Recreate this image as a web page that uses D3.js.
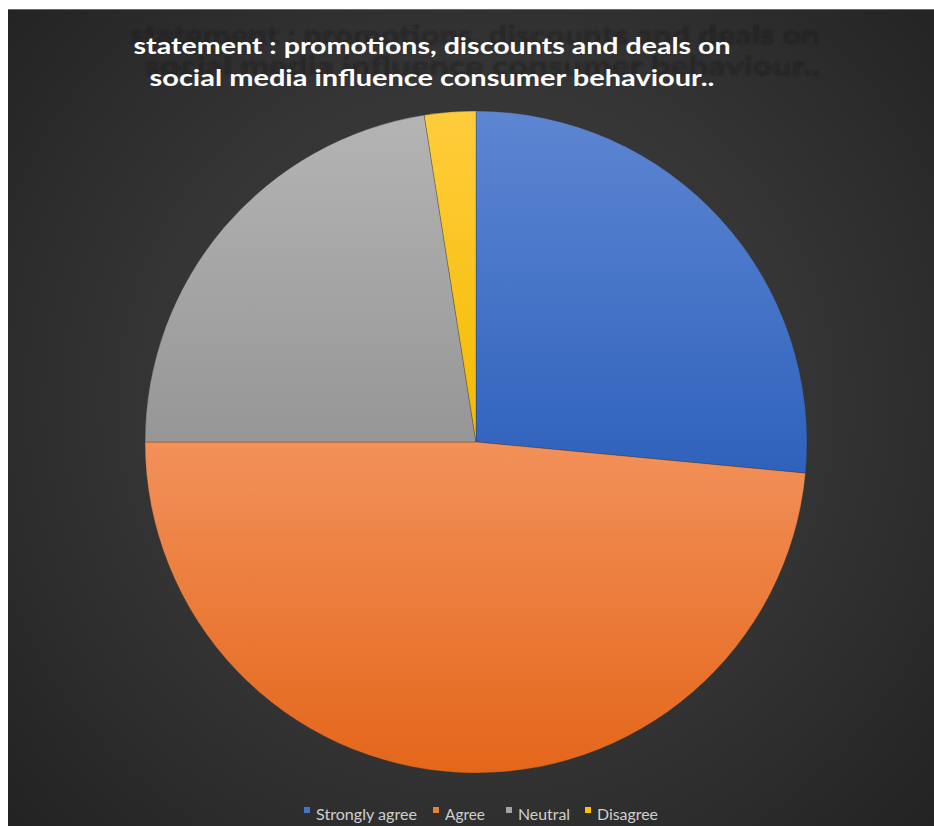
<!DOCTYPE html>
<html>
<head>
<meta charset="utf-8">
<script src="https://cdn.jsdelivr.net/npm/d3@7"></script>
<style>
  html, body { margin: 0; padding: 0; background: #ffffff; }
  svg { display: block; }
</style>
</head>
<body>
<svg id="chart" width="934" height="826"></svg>
<script>
// Survey responses (share of respondents, %)
const categories = ["Strongly agree", "Agree", "Neutral", "Disagree"];
const values = [26.5, 48.5, 22.5, 2.5];
const titleLines = [
  "statement : promotions, discounts and  deals on",
  "social  media  influence  consumer  behaviour.."
];
// slice fills: [light top, dark bottom]
const fills = [
  ["#5d86d2", "#2f62bc"],
  ["#f2915a", "#e4661a"],
  ["#b4b4b4", "#969696"],
  ["#ffcd3c", "#f4bb00"]
];

const W = 934, H = 826;
const svg = d3.select("#chart");
const defs = svg.append("defs");

// dark chart-area background with a soft centre glow
const bg = defs.append("radialGradient").attr("id", "bg")
  .attr("gradientUnits", "userSpaceOnUse")
  .attr("cx", 476).attr("cy", 400).attr("r", 620);
bg.append("stop").attr("offset", "0").attr("stop-color", "#444444");
bg.append("stop").attr("offset", "0.55").attr("stop-color", "#343434");
bg.append("stop").attr("offset", "1").attr("stop-color", "#232323");

fills.forEach((f, i) => {
  const g = defs.append("linearGradient").attr("id", "fill" + i)
    .attr("x1", 0).attr("y1", 0).attr("x2", 0).attr("y2", 1);
  g.append("stop").attr("offset", "0").attr("stop-color", f[0]);
  g.append("stop").attr("offset", "1").attr("stop-color", f[1]);
});

const blur = defs.append("filter").attr("id", "soft")
  .attr("x", "-5%").attr("y", "-20%").attr("width", "110%").attr("height", "140%");
blur.append("feGaussianBlur").attr("stdDeviation", 1.1);

svg.append("rect").attr("x", 8).attr("y", 9).attr("width", W - 8).attr("height", H - 9)
  .attr("fill", "url(#bg)");
svg.append("line").attr("x1", 8).attr("x2", W).attr("y1", 9.5).attr("y2", 9.5)
  .attr("stroke", "#6a6a6a").attr("stroke-width", 1);

// title: stretched perspective shadow behind the white text
const titleFont = "Lato, 'Open Sans', sans-serif";
const shadowX = [130, 145], shadowLen = [690, 675], shadowY = [44, 75];
const shadow = svg.append("g").attr("filter", "url(#soft)");
titleLines.forEach((t, i) => {
  shadow.append("text")
    .attr("x", shadowX[i]).attr("y", shadowY[i])
    .attr("font-family", titleFont).attr("font-weight", 700)
    .attr("font-size", 25).attr("fill", "#1d1d1d").attr("fill-opacity", 0.6)
    .attr("textLength", shadowLen[i])
    .attr("lengthAdjust", "spacingAndGlyphs")
    .text(t);
});

const title = svg.append("g");
titleLines.forEach((t, i) => {
  title.append("text")
    .attr("x", 432).attr("y", 54 + i * 32)
    .attr("text-anchor", "middle")
    .attr("font-family", titleFont).attr("font-weight", 700)
    .attr("font-size", 23).attr("fill", "#ffffff")
    .attr("textLength", i === 0 ? 597 : 565)
    .attr("lengthAdjust", "spacingAndGlyphs")
    .text(t);
});

// pie
const cx = 476, cy = 442, R = 331;
const pie = d3.pie().sort(null).value(d => d.v);
const arc = d3.arc().innerRadius(0).outerRadius(R);
const data = pie(categories.map((c, i) => ({ c, v: values[i], i })));

svg.append("g").attr("transform", `translate(${cx},${cy})`)
  .selectAll("path").data(data).join("path")
  .attr("d", arc)
  .attr("fill", d => `url(#fill${d.data.i})`)
  .attr("stroke", "rgba(40,40,40,0.35)")
  .attr("stroke-width", 0.8);

// legend
const legendFont = "Lato, 'Open Sans', sans-serif";
const legend = svg.append("g").attr("transform", "translate(0,820)");
const swatchColors = ["#4472c4", "#ed7d31", "#a5a5a5", "#ffc000"];
const xs = [304, 433, 506, 585];
const textLens = [101, 40, 52, 61];
const items = legend.selectAll("g").data(categories).join("g")
  .attr("transform", (d, i) => `translate(${xs[i]},0)`);
items.append("rect").attr("x", 0).attr("y", -13).attr("width", 6).attr("height", 6)
  .attr("fill", (d, i) => swatchColors[i]);
items.append("text").attr("x", 12).attr("y", 0)
  .attr("font-family", legendFont).attr("font-size", 14.5)
  .attr("fill", "#cfcfcf")
  .attr("textLength", (d, i) => textLens[i])
  .attr("lengthAdjust", "spacingAndGlyphs")
  .text(d => d);
</script>
</body>
</html>
